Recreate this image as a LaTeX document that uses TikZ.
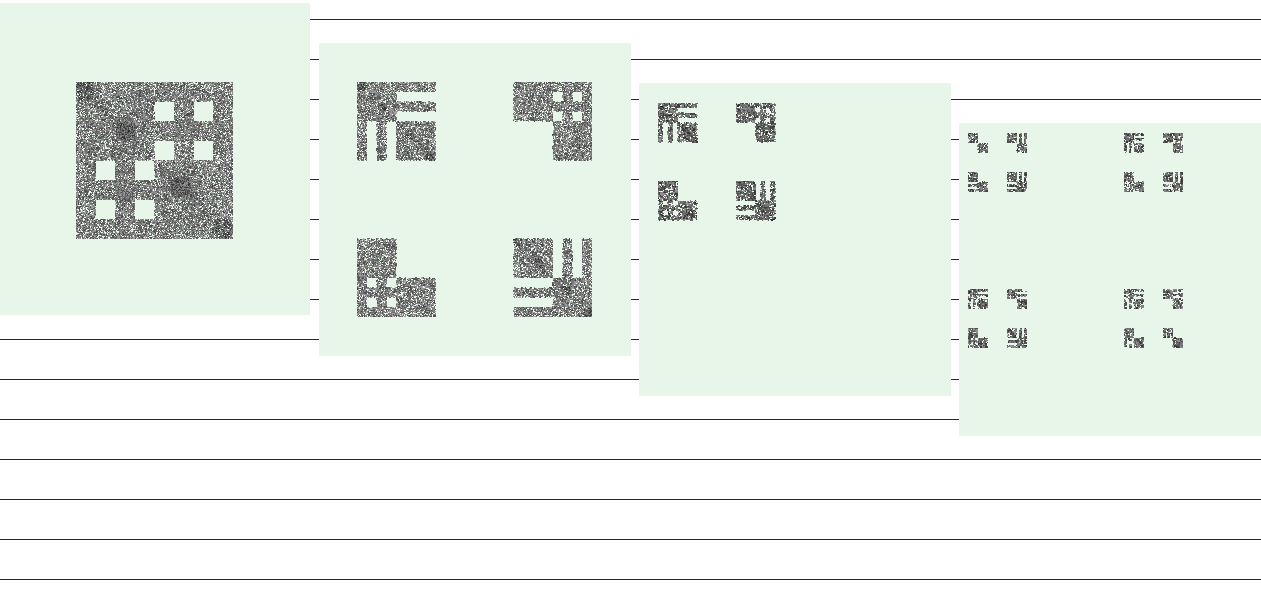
\documentclass[tikz,border=0pt]{standalone}
\definecolor{panelgreen}{RGB}{231,246,233}
\tikzset{panelbg/.style={fill=panelgreen,draw=none},rowline/.style={draw=black!85,line width=0.8bp}}
\newcount\Cc \newcount\Rr \newcount\Ix \newcount\Iy \newcount\Rx \newcount\Ry
\newcount\Dens \newcount\Gs \newcount\Pn \newcount\PS \newcount\PB \newcount\BlobR \newcount\DiagW \newcount\NN \newcount\CellD \newcount\DS \newcount\JJ \newcount\GB
\setrandomseed 271828
\makeatletter
\def\BlobTest#1{%
  \ifnum\numexpr(\Rx-\NN*#1/100)*(\Rx-\NN*#1/100)+(\Ry-\NN*#1/100)*(\Ry-\NN*#1/100)\relax<\BlobR
    \advance\Dens 130 \Gs=-90 \fi}
\def\DotLoop{\ifnum\Ix<\Pn
  \Rx=\numexpr\Cc*\Pn+\Ix\relax
  \Ry=\numexpr\Rr*\Pn+\Iy\relax
  \Dens=\CellD \Gs=0
  \ifnum\PF>0
    \ifnum\numexpr(\Rx-\Ry)*(\Rx-\Ry)\relax<\DiagW \advance\Dens 50 \Gs=-30 \fi
    \BlobTest{5}\BlobTest{31}\BlobTest{66}\BlobTest{94}%
  \fi
  \ifnum\uniformdeviate 1000<\Dens
    \edef\buf{\buf\space 0.\the\numexpr \GB+\Gs+\uniformdeviate 400\relax\space g
      \the\numexpr\PX+\Rx*\PS+\uniformdeviate\JJ-\JJ/2\relax\space
      -\the\numexpr\PY+\Ry*\PS+\uniformdeviate\JJ-\JJ/2\relax\space
      \the\DS\space-\the\DS\space re f}%
  \fi
  \advance\Ix 1
  \expandafter\DotLoop\fi}
\def\RowLoop{\ifnum\Iy<\Pn
  \Ix=0 \def\buf{}\DotLoop
  \pgfsys@invoke{\buf}%
  \advance\Iy 1
  \expandafter\RowLoop\fi}
\def\DoCell{%
  \Iy=0
  \CellD=\numexpr\PB-\PV+\uniformdeviate\numexpr2*\PV+1\relax\relax
  \ifnum\PF=2
    \ifnum\Rr=2 \advance\CellD 60 \fi \ifnum\Rr=5 \advance\CellD 60 \fi
    \ifnum\Cc=2 \advance\CellD 60 \fi \ifnum\Cc=5 \advance\CellD 60 \fi
  \fi
  \RowLoop}
\def\PCell#1{\ifx#1.\else
  \ifnum#1=1 \DoCell\fi
  \advance\Cc 1
  \ifnum\Cc=8 \Cc=0 \advance\Rr 1 \fi
  \expandafter\PCell\fi}
% x y (hundredths of a px), dots per cell n, step, base density, cell variation, flag, pattern
\def\Panel#1#2#3#4#5#6#7#8{%
  \def\PX{#1}\def\PY{#2}\Pn=#3 \PS=#4 \PB=#5 \def\PV{#6}\def\PF{#7}%
  \NN=\numexpr8*\Pn\relax
  \BlobR=\numexpr\NN*\NN/250\relax
  \DiagW=\numexpr\NN*\NN/900+1\relax
  \ifnum\Pn>4 \DS=\numexpr\PS*125/100\relax \GB=270 \else \DS=\numexpr\PS*125/100\relax \GB=200 \fi
  \JJ=\numexpr\PS*70/100\relax
  \Cc=0 \Rr=0
  \pgfsys@invoke{q 0.01 0 0 0.01 0 0 cm}%
  \expandafter\PCell#8.%
  \pgfsys@invoke{Q}}
\makeatother
\def\patBig{11111111 11110101 11111111 11110101 10101111 11111111 10101111 11111111}
\def\patA{11111111 11110000 11111111 11110000 10101111 10101111 10101111 10101111}
\def\patB{11111111 11110101 11111111 11110101 00001111 00001111 00001111 00001111}
\def\patC{11110000 11110000 11110000 11110000 10101111 11111111 10101111 11111111}
\def\patD{11110101 11110101 11110101 11110101 00001111 11111111 00001111 11111111}
\def\patE{11110000 11110000 11110000 11110000 00001111 00001111 00001111 00001111}
\def\patF{11110101 11110101 11110101 11110101 00001111 00001111 00001111 00001111}
\def\patG{11110000 11110000 11110000 11110000 00001111 11111111 00001111 11111111}
\def\patH{11111111 11110000 11111111 11110000 00001111 00001111 00001111 00001111}
\def\patI{11110000 11110000 11110000 11110000 10101111 10101111 10101111 10101111}
\begin{document}
\begin{tikzpicture}[x=1bp,y=-1bp]
\useasboundingbox (0,0) rectangle (1261,589);
\fill[white] (0,0) rectangle (1261,589);
\foreach \yy in {19,59,...,579}{\draw[rowline] (0,\yy+0.5) -- (1261,\yy+0.5);}
\fill[panelbg] (0,3) rectangle (310,315.5);
\fill[panelbg] (319,43) rectangle (631,355.5);
\fill[panelbg] (639,83) rectangle (951,395.5);
\fill[panelbg] (959,123) rectangle (1261,435.5);
% level 1
\Panel{7600}{8200}{20}{98}{760}{60}{2}{\patBig}
% level 2
\Panel{35700}{8200}{10}{98}{780}{40}{1}{\patA}
\Panel{51350}{8200}{10}{98}{780}{40}{0}{\patB}
\Panel{35700}{23850}{10}{98}{780}{40}{0}{\patC}
\Panel{51350}{23850}{10}{98}{780}{40}{1}{\patD}
% level 3
\Panel{65800}{10300}{4}{122}{800}{40}{1}{\patA}
\Panel{73600}{10300}{4}{122}{800}{40}{0}{\patB}
\Panel{65800}{18100}{4}{122}{800}{40}{0}{\patC}
\Panel{73600}{18100}{4}{122}{800}{40}{1}{\patD}
% level 4
\Panel{96800}{13300}{2}{122}{820}{0}{0}{\patE}
\Panel{100700}{13300}{2}{122}{820}{0}{0}{\patF}
\Panel{96800}{17200}{2}{122}{820}{0}{0}{\patG}
\Panel{100700}{17200}{2}{122}{820}{0}{0}{\patD}
\Panel{112400}{13300}{2}{122}{820}{0}{0}{\patA}
\Panel{116300}{13300}{2}{122}{820}{0}{0}{\patB}
\Panel{112400}{17200}{2}{122}{820}{0}{0}{\patC}
\Panel{116300}{17200}{2}{122}{820}{0}{0}{\patD}
\Panel{96800}{28900}{2}{122}{820}{0}{0}{\patA}
\Panel{100700}{28900}{2}{122}{820}{0}{0}{\patH}
\Panel{96800}{32800}{2}{122}{820}{0}{0}{\patC}
\Panel{100700}{32800}{2}{122}{820}{0}{0}{\patD}
\Panel{112400}{28900}{2}{122}{820}{0}{0}{\patA}
\Panel{116300}{28900}{2}{122}{820}{0}{0}{\patH}
\Panel{112400}{32800}{2}{122}{820}{0}{0}{\patI}
\Panel{116300}{32800}{2}{122}{820}{0}{0}{\patE}
\end{tikzpicture}
\end{document}
